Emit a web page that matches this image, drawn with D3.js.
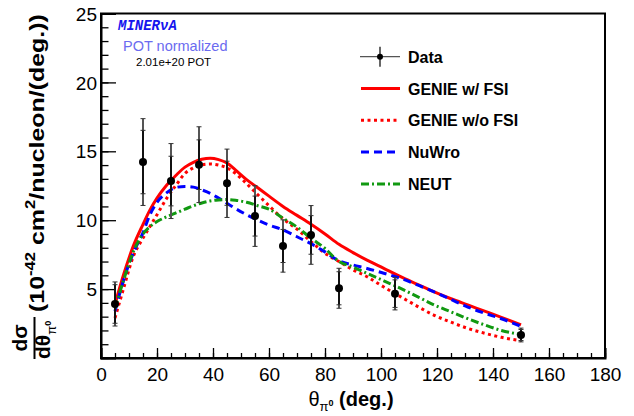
<!DOCTYPE html>
<html>
<head>
<meta charset="utf-8">
<script src="https://d3js.org/d3.v7.min.js"></script>
<style>
  body { margin: 0; background: #fff; }
  svg text { font-family: "Liberation Sans", Arial, sans-serif; }
</style>
</head>
<body>
<svg id="plot1" width="634" height="416"></svg>
<script>
// data points (theta_pi0 bin centres, cross section, stat and total errors)
const angle = [5, 15, 25, 35, 45, 55, 65, 75, 85, 105, 150];
const xsec = [3.92, 14.22, 12.84, 14.03, 12.68, 10.30, 8.13, 8.93, 5.06, 4.67, 1.67];
const statErr = [1.4, 2.3, 1.8, 1.8, 1.6, 1.45, 1.2, 1.4, 1.2, 1.0, 0.4];
const totErr = [1.6, 3.15, 2.72, 2.75, 2.48, 2.2, 1.9, 2.13, 1.45, 1.18, 0.5];

// model curves, sampled on a common grid
const grid = [5, 8, 11.5, 15, 17.5, 20, 23.5, 27, 30, 33, 36, 39, 42, 45, 48, 52, 56, 60, 65, 70, 75, 80, 85, 90, 95, 101, 107, 113, 119, 125, 131, 137, 143, 150];
const genieFSI = [3.9, 6.0, 8.1, 9.7, 10.75, 11.6, 12.55, 13.3, 13.85, 14.2, 14.42, 14.5, 14.4, 14.15, 13.65, 12.95, 12.35, 11.75, 11.0, 10.35, 9.7, 9.0, 8.25, 7.65, 7.1, 6.5, 5.9, 5.35, 4.8, 4.3, 3.85, 3.4, 2.95, 2.4];
const genieNoFSI = [2.9, 5.0, 7.35, 8.7, 9.55, 10.4, 11.6, 12.6, 13.4, 13.8, 14.02, 14.08, 14.0, 13.8, 13.4, 12.65, 11.85, 11.05, 10.1, 9.35, 8.45, 7.6, 7.0, 6.4, 5.9, 5.15, 4.45, 3.75, 3.1, 2.6, 2.15, 1.8, 1.5, 1.25];
const nuwro = [3.4, 5.6, 7.6, 9.1, 10.4, 11.3, 12.0, 12.39, 12.45, 12.4, 12.2, 11.95, 11.6, 11.23, 10.85, 10.4, 10.0, 9.65, 9.3, 8.8, 8.3, 7.7, 7.05, 6.75, 6.5, 6.15, 5.78, 5.3, 4.8, 4.25, 3.7, 3.25, 2.85, 2.3];
const neut = [3.6, 5.6, 7.7, 9.0, 9.53, 9.9, 10.25, 10.55, 10.8, 11.05, 11.25, 11.4, 11.47, 11.5, 11.45, 11.3, 11.05, 10.8, 10.15, 9.5, 8.7, 7.95, 7.0, 6.6, 6.15, 5.6, 5.05, 4.45, 3.85, 3.35, 2.85, 2.4, 2.0, 1.7];

const xTicks = [0, 20, 40, 60, 80, 100, 120, 140, 160, 180];
const yTicks = [5, 10, 15, 20, 25];
const legendNames = ['Data', 'GENIE w/ FSI', 'GENIE w/o FSI', 'NuWro', 'NEUT'];

const frame = {left: 101, right: 605, top: 13.5, bottom: 358};
const svg = d3.select('svg#plot1');

let x = d3.scaleLinear().domain([0, 180]).range([frame.left, frame.right]);
let y = d3.scaleLinear().domain([0, 25]).range([frame.bottom, frame.top]);

// frame (top / right)
svg.append('rect')
   .attr('x', frame.left).attr('y', frame.top)
   .attr('width', frame.right - frame.left).attr('height', frame.bottom - frame.top)
   .attr('fill', 'none').attr('stroke', '#000').attr('stroke-width', 2);

// x axis: ticks point inward
let xMinor = d3.range(0, 181, 5);
svg.append('g').attr('transform', `translate(0,${frame.bottom})`)
   .call(d3.axisTop(x).tickValues(xMinor).tickSize(5).tickFormat(''))
   .call(g => g.selectAll('path.domain').remove())
   .call(g => g.selectAll('line').attr('stroke-width', 1.3));
let xAxis = svg.append('g').attr('transform', `translate(0,${frame.bottom})`)
   .call(d3.axisTop(x).tickValues(xTicks).tickSize(10).tickFormat(d3.format('d')));
xAxis.select('path.domain').attr('stroke-width', 2);
xAxis.selectAll('line').attr('stroke-width', 1.3);
xAxis.selectAll('text').attr('y', 23).attr('dy', 0).attr('font-size', 19).attr('fill', '#000');

// y axis: ticks point inward
let yMinor = d3.range(0, 25.1, 1);
svg.append('g').attr('transform', `translate(${frame.left},0)`)
   .call(d3.axisRight(y).tickValues(yMinor).tickSize(7.5).tickFormat(''))
   .call(g => g.selectAll('path.domain').remove())
   .call(g => g.selectAll('line').attr('stroke-width', 1.3));
let yAxis = svg.append('g').attr('transform', `translate(${frame.left},0)`)
   .call(d3.axisRight(y).tickValues(yTicks).tickSize(15).tickFormat(d3.format('d')));
yAxis.select('path.domain').attr('stroke-width', 2);
yAxis.selectAll('line').attr('stroke-width', 1.3);
yAxis.selectAll('text').attr('x', -4).attr('dy', '0.35em').attr('text-anchor', 'end')
     .attr('font-size', 19).attr('fill', '#000');

// model curves
const models = [
  {vals: genieFSI, color: '#ff0000', dash: null},
  {vals: genieNoFSI, color: '#ff0000', dash: '3,3.5'},
  {vals: nuwro, color: '#0000ff', dash: '8,5'},
  {vals: neut, color: '#119911', dash: '8,3,2,3'}
];
let line = d3.line().x(d => x(d[0])).y(d => y(d[1])).curve(d3.curveMonotoneX);
models.forEach(m => {
  svg.append('path')
     .datum(grid.map((g, i) => [g, m.vals[i]]))
     .attr('d', line)
     .attr('fill', 'none')
     .attr('stroke', m.color)
     .attr('stroke-width', 3)
     .attr('stroke-dasharray', m.dash);
});

// data points with error bars
let pts = angle.map((a, i) => ({a: a, v: xsec[i], s: statErr[i], t: totErr[i]}));
let bars = svg.append('g');
pts.forEach(d => {
  bars.append('line').attr('x1', x(d.a)).attr('x2', x(d.a))
      .attr('y1', y(d.v + d.t)).attr('y2', y(d.v - d.t))
      .attr('stroke', '#555').attr('stroke-width', 2);
  bars.append('line').attr('x1', x(d.a)).attr('x2', x(d.a))
      .attr('y1', y(d.v + d.s)).attr('y2', y(d.v - d.s))
      .attr('stroke', '#111').attr('stroke-width', 2);
  [d.v + d.t, d.v - d.t, d.v + d.s, d.v - d.s].forEach(c => {
    bars.append('line').attr('x1', x(d.a) - 2.5).attr('x2', x(d.a) + 2.5)
        .attr('y1', y(c)).attr('y2', y(c))
        .attr('stroke', '#333').attr('stroke-width', 1);
  });
});
svg.selectAll('circle.pt')
   .data(pts)
   .join('circle')
   .attr('class', 'pt')
   .attr('cx', d => x(d.a))
   .attr('cy', d => y(d.v))
   .attr('r', 4)
   .attr('fill', '#000');

// legend
let leg = svg.append('g');
legendNames.forEach((name, i) => {
  let ly = 56.7 + i * 31.8;
  if (i === 0) {
    leg.append('line').attr('x1', 360).attr('x2', 400).attr('y1', ly).attr('y2', ly)
       .attr('stroke', '#555').attr('stroke-width', 1.2);
    leg.append('line').attr('x1', 380).attr('x2', 380).attr('y1', ly - 10).attr('y2', ly + 10)
       .attr('stroke', '#000').attr('stroke-width', 1.2);
    leg.append('circle').attr('cx', 380).attr('cy', ly).attr('r', 3).attr('fill', '#000');
  } else {
    let m = models[i - 1];
    leg.append('line').attr('x1', 361).attr('x2', 400).attr('y1', ly).attr('y2', ly)
       .attr('stroke', m.color).attr('stroke-width', 3).attr('stroke-dasharray', m.dash);
  }
  leg.append('text').attr('x', 408).attr('y', ly + 6)
     .attr('font-size', 16).attr('font-weight', 'bold').text(name);
});

// experiment labels
svg.append('text').attr('x', 118).attr('y', 30)
   .style('font-family', '"Liberation Mono", "DejaVu Sans Mono", monospace')
   .attr('font-size', 14).attr('font-weight', 'bold').attr('font-style', 'italic')
   .attr('fill', '#1515ee').text('MINERνA');
svg.append('text').attr('x', 123).attr('y', 51)
   .attr('font-size', 14.5).attr('fill', '#6b6bf0').text('POT normalized');
svg.append('text').attr('x', 136).attr('y', 66)
   .attr('font-size', 11.5).attr('fill', '#000').text('2.01e+20 POT');

// x title
let xt = svg.append('text').attr('x', 351).attr('y', 406).attr('text-anchor', 'middle')
   .attr('font-size', 20).attr('font-weight', 'bold');
xt.append('tspan').attr('font-weight', 'normal').text('θ');
xt.append('tspan').attr('font-size', 13).attr('font-weight', 'normal').attr('dy', 5).text('π');
xt.append('tspan').attr('font-size', 9).attr('dy', -5).text('0');
xt.append('tspan').attr('dy', 0).text(' (deg.)');

// y title: stretched along the axis like the original
let yt = svg.append('text').attr('font-size', 21).attr('font-weight', 'bold');
yt.append('tspan').text('(10');
yt.append('tspan').attr('font-size', 14).attr('dy', -9).text('-42');
yt.append('tspan').attr('dy', 9).text(' cm');
yt.append('tspan').attr('font-size', 14).attr('dy', -9).text('2');
yt.append('tspan').attr('dy', 9).text('/nucleon/(deg.))');
let ytLen = yt.node().getComputedTextLength();
yt.attr('transform', `translate(44,312) rotate(-90) scale(${298 / ytLen},1)`);

svg.append('text').attr('transform', 'translate(27,338) rotate(-90)')
   .attr('text-anchor', 'middle').attr('font-size', 21).attr('font-weight', 'bold').text('dσ');
svg.append('line').attr('x1', 34.5).attr('x2', 34.5).attr('y1', 317).attr('y2', 359)
   .attr('stroke', '#000').attr('stroke-width', 2);
let den = svg.append('text').attr('transform', 'translate(50,359) rotate(-90)')
   .attr('font-size', 21).attr('font-weight', 'bold').attr('text-anchor', 'start');
den.append('tspan').text('dθ');
den.append('tspan').attr('font-size', 13).attr('font-weight', 'normal').attr('dy', 6).text('π');
den.append('tspan').attr('font-size', 9).attr('dy', -5).text('0');
</script>
</body>
</html>
